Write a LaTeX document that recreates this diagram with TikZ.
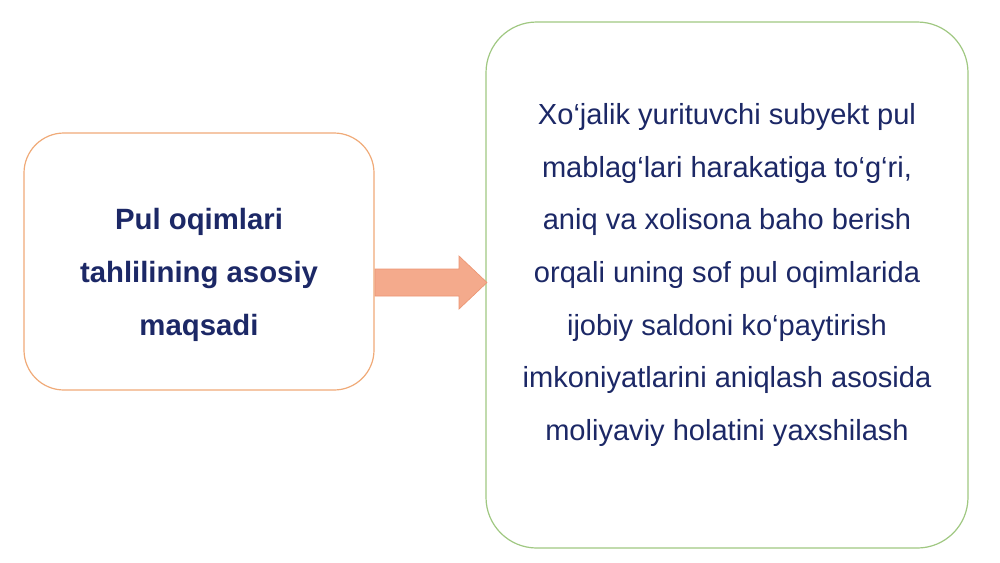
\documentclass[tikz,border=0pt]{standalone}
\usepackage{fontspec}
\setmainfont{Liberation Sans}
\definecolor{navy}{RGB}{28,40,102}
\definecolor{orangeline}{RGB}{240,170,120}
\definecolor{greenline}{RGB}{160,200,130}
\definecolor{arrowfill}{RGB}{244,170,140}
\definecolor{arrowline}{RGB}{236,150,115}
\tikzset{
  leftbox/.style={draw=orangeline, line width=0.9pt, rounded corners=30pt},
  rightbox/.style={draw=greenline, line width=0.9pt, rounded corners=38pt},
  txt/.style={text=navy, font=\fontsize{21.8}{39.5}\selectfont, align=center},
}
\begin{document}
\begin{tikzpicture}[x=0.75pt,y=-0.75pt]
\useasboundingbox (0,0) rectangle (1000,562);
\fill[white] (0,0) rectangle (1000,562);
\draw[leftbox] (24,133) rectangle (374,390);
\draw[rightbox] (486,22) rectangle (968,548);
\node[txt, font=\bfseries\fontsize{22}{39.7}\selectfont] (lefttext) at (199,275) {Pul oqimlari\\tahlilining asosiy\\maqsadi};
\node[txt] (righttext) at (727,275) {Xo‘jalik yurituvchi subyekt pul\\mablag‘lari harakatiga to‘g‘ri,\\aniq va xolisona baho berish\\orqali uning sof pul oqimlarida\\ijobiy saldoni ko‘paytirish\\imkoniyatlarini aniqlash asosida\\moliyaviy holatini yaxshilash};
\draw[fill=arrowfill, draw=arrowline, line width=0.5pt] (375,269) -- (459,269) -- (459,256) -- (487,282.5) -- (459,309) -- (459,296) -- (375,296) -- cycle;
\end{tikzpicture}
\end{document}
